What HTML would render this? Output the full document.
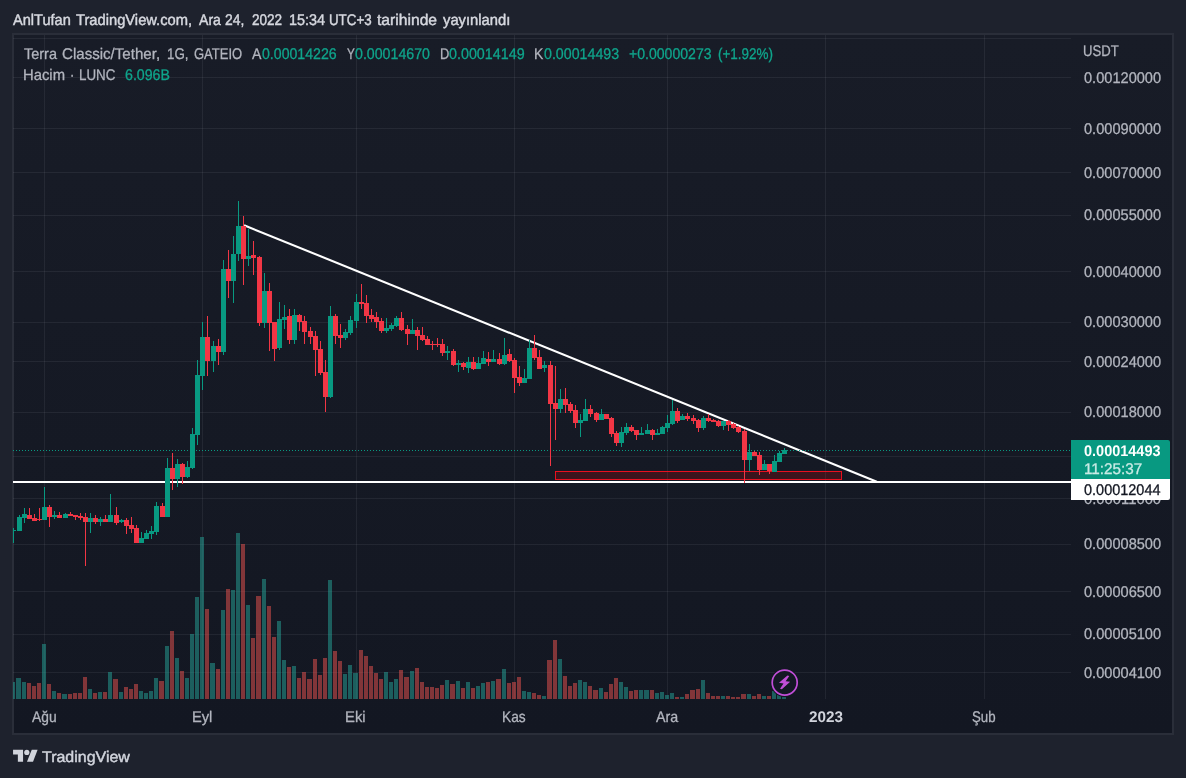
<!DOCTYPE html>
<html><head><meta charset="utf-8"><title>chart</title><style>
html,body{margin:0;padding:0}body{width:1186px;height:778px;background:#1e222d;position:relative;overflow:hidden;font-family:"Liberation Sans",sans-serif}
.t{position:absolute;white-space:nowrap;transform-origin:0 16px;line-height:21px}
#tx{position:absolute;left:0;top:0;width:1186px;height:778px;will-change:transform}
</style></head><body>
<svg width="1186" height="778" viewBox="0 0 1186 778" style="position:absolute;left:0;top:0">
<defs><linearGradient id="bg" x1="0" y1="0" x2="0" y2="1"><stop offset="0" stop-color="#181c27"/><stop offset="1" stop-color="#131722"/></linearGradient><clipPath id="cp"><rect x="13" y="35" width="1058" height="664"/></clipPath></defs>
<rect x="12" y="33" width="1162" height="702" fill="#2a2e39"/>
<rect x="14" y="35" width="1158" height="698" fill="url(#bg)"/>
<path d="M44 35h1v664h-1zM202 35h1v664h-1zM356 35h1v664h-1zM514 35h1v664h-1zM667 35h1v664h-1zM825 35h1v664h-1zM984 35h1v664h-1z" fill="rgba(240,243,250,0.065)"/>
<path d="M13 38h1058v1h-1058zM13 77h1058v1h-1058zM13 128h1058v1h-1058zM13 172h1058v1h-1058zM13 215h1058v1h-1058zM13 271h1058v1h-1058zM13 322h1058v1h-1058zM13 361h1058v1h-1058zM13 412h1058v1h-1058zM13 456h1058v1h-1058zM13 498h1058v1h-1058zM13 544h1058v1h-1058zM13 591h1058v1h-1058zM13 634h1058v1h-1058zM13 672h1058v1h-1058z" fill="rgba(240,243,250,0.065)"/>
<g clip-path="url(#cp)">
<rect x="13" y="481" width="1058" height="2" fill="#fff"/>
<path d="M244.1 225.25L876.8 481.7" stroke="#fff" stroke-width="2.1" stroke-linecap="butt" fill="none"/>
<path d="M11 699v-17h4v17zM16 699v-21h5v21zM22 699v-17h4v17zM42 699v-55h4v55zM52 699v-8h4v8zM62 699v-5h5v5zM88 699v-10h4v10zM98 699v-7h4v7zM108 699v-27h4v27zM119 699v-7h4v7zM139 699v-8h4v8zM144 699v-6h4v6zM149 699v-8h4v8zM154 699v-21h4v21zM165 699v-53h4v53zM175 699v-41h4v41zM185 699v-21h4v21zM190 699v-65h4v65zM195 699v-102h4v102zM200 699v-162h4v162zM210 699v-36h5v36zM221 699v-89h4v89zM231 699v-109h4v109zM236 699v-166h4v166zM246 699v-94h4v94zM262 699v-120h4v120zM277 699v-78h4v78zM282 699v-39h4v39zM292 699v-33h4v33zM328 699v-119h4v119zM343 699v-25h4v25zM348 699v-34h4v34zM353 699v-26h5v26zM384 699v-27h4v27zM389 699v-17h4v17zM394 699v-20h4v20zM410 699v-28h4v28zM445 699v-19h4v19zM456 699v-18h4v18zM466 699v-17h4v17zM476 699v-13h4v13zM481 699v-16h4v16zM491 699v-18h4v18zM502 699v-30h4v30zM522 699v-8h4v8zM527 699v-7h4v7zM542 699v-3h4v3zM558 699v-40h4v40zM578 699v-19h4v19zM583 699v-17h4v17zM599 699v-11h4v11zM619 699v-17h4v17zM624 699v-12h4v12zM639 699v-9h4v9zM644 699v-9h5v9zM655 699v-6h4v6zM660 699v-7h4v7zM665 699v-4h4v4zM670 699v-6h4v6zM680 699v-2h4v2zM701 699v-19h4v19zM721 699v-3h4v3zM747 699v-5h4v5zM762 699v-3h4v3zM772 699v-8h4v8zM777 699v-4h4v4zM782 699v-2h4v2z" fill="rgba(38,166,154,0.5)"/>
<path d="M27 699v-16h4v16zM32 699v-13h4v13zM37 699v-16h4v16zM47 699v-15h4v15zM57 699v-6h4v6zM68 699v-5h4v5zM73 699v-6h4v6zM78 699v-6h4v6zM83 699v-22h4v22zM93 699v-6h4v6zM103 699v-7h4v7zM113 699v-20h5v20zM124 699v-12h4v12zM129 699v-10h4v10zM134 699v-15h4v15zM159 699v-18h5v18zM170 699v-68h4v68zM180 699v-28h4v28zM205 699v-90h4v90zM216 699v-30h4v30zM226 699v-110h4v110zM241 699v-155h4v155zM251 699v-61h4v61zM256 699v-103h5v103zM267 699v-93h4v93zM272 699v-62h4v62zM287 699v-32h4v32zM297 699v-21h4v21zM302 699v-27h4v27zM307 699v-20h5v20zM313 699v-40h4v40zM318 699v-24h4v24zM323 699v-41h4v41zM333 699v-48h4v48zM338 699v-38h4v38zM359 699v-49h4v49zM364 699v-43h4v43zM369 699v-33h4v33zM374 699v-26h4v26zM379 699v-20h4v20zM399 699v-29h4v29zM404 699v-22h5v22zM415 699v-31h4v31zM420 699v-17h4v17zM425 699v-12h4v12zM430 699v-12h4v12zM435 699v-11h4v11zM440 699v-14h4v14zM450 699v-15h5v15zM461 699v-11h4v11zM471 699v-11h4v11zM486 699v-17h4v17zM496 699v-20h5v20zM507 699v-16h4v16zM512 699v-17h4v17zM517 699v-22h4v22zM532 699v-6h4v6zM537 699v-4h4v4zM547 699v-39h5v39zM553 699v-59h4v59zM563 699v-23h4v23zM568 699v-13h4v13zM573 699v-16h4v16zM588 699v-13h4v13zM593 699v-9h5v9zM604 699v-7h4v7zM609 699v-15h4v15zM614 699v-21h4v21zM629 699v-8h4v8zM634 699v-9h4v9zM650 699v-9h4v9zM675 699v-2h4v2zM685 699v-5h4v5zM690 699v-9h5v9zM696 699v-10h4v10zM706 699v-6h4v6zM711 699v-3h4v3zM716 699v-3h4v3zM726 699v-3h4v3zM731 699v-2h4v2zM736 699v-2h4v2zM741 699v-5h5v5zM752 699v-3h4v3zM757 699v-5h4v5zM767 699v-3h4v3z" fill="rgba(239,83,80,0.5)"/>
<rect x="555.5" y="471.5" width="286" height="8" fill="rgba(255,0,0,0.17)" stroke="#e8101e" stroke-width="1"/>
<path d="M13 450.5H1071" stroke="#089981" stroke-width="1" stroke-dasharray="1 2" fill="none"/>
<path d="M13 528h1v15h-1zM11 530h5v1h-5zM19 515h1v16h-1zM17 517h5v14h-5zM24 508h1v15h-1zM22 514h5v4h-5zM44 487h1v33h-1zM42 507h5v13h-5zM54 511h1v8h-1zM52 515h5v2h-5zM65 513h1v5h-1zM63 514h5v4h-5zM90 513h1v20h-1zM88 518h5v4h-5zM100 517h1v9h-1zM98 519h5v3h-5zM110 494h1v28h-1zM108 515h5v7h-5zM121 519h1v4h-1zM119 520h5v2h-5zM141 532h1v11h-1zM139 538h5v5h-5zM146 530h1v9h-1zM144 533h5v6h-5zM151 526h1v13h-1zM149 531h5v3h-5zM156 502h1v33h-1zM154 506h5v26h-5zM167 458h1v59h-1zM165 468h5v49h-5zM177 459h1v28h-1zM175 464h5v15h-5zM187 461h1v17h-1zM185 467h5v10h-5zM192 428h1v41h-1zM190 434h5v34h-5zM197 360h1v85h-1zM195 375h5v60h-5zM202 322h1v68h-1zM200 337h5v39h-5zM213 341h1v31h-1zM211 346h5v15h-5zM223 260h1v95h-1zM221 269h5v83h-5zM233 236h1v67h-1zM231 254h5v27h-5zM238 201h1v60h-1zM236 226h5v28h-5zM248 229h1v37h-1zM246 256h5v3h-5zM264 273h1v55h-1zM262 291h5v32h-5zM279 302h1v48h-1zM277 319h5v29h-5zM284 305h1v24h-1zM282 317h5v3h-5zM294 309h1v35h-1zM292 315h5v25h-5zM330 306h1v92h-1zM328 316h5v81h-5zM345 329h1v11h-1zM343 332h5v6h-5zM350 316h1v19h-1zM348 320h5v13h-5zM356 294h1v34h-1zM354 302h5v19h-5zM386 318h1v15h-1zM384 328h5v3h-5zM391 323h1v8h-1zM389 325h5v4h-5zM396 316h1v11h-1zM394 318h5v8h-5zM412 319h1v15h-1zM410 330h5v4h-5zM447 346h1v14h-1zM445 351h5v2h-5zM458 360h1v12h-1zM456 363h5v2h-5zM468 357h1v16h-1zM466 362h5v6h-5zM478 357h1v12h-1zM476 363h5v6h-5zM483 351h1v13h-1zM481 358h5v6h-5zM493 350h1v12h-1zM491 359h5v3h-5zM504 338h1v27h-1zM502 355h5v9h-5zM524 369h1v14h-1zM522 378h5v5h-5zM529 340h1v39h-1zM527 348h5v31h-5zM544 361h1v11h-1zM542 365h5v3h-5zM560 389h1v24h-1zM558 399h5v10h-5zM580 414h1v23h-1zM578 420h5v3h-5zM585 399h1v22h-1zM583 409h5v12h-5zM601 409h1v11h-1zM599 414h5v6h-5zM621 427h1v20h-1zM619 432h5v11h-5zM626 423h1v12h-1zM624 427h5v6h-5zM641 427h1v8h-1zM639 433h5v2h-5zM647 424h1v10h-1zM645 430h5v4h-5zM657 429h1v6h-1zM655 433h5v2h-5zM662 426h1v8h-1zM660 427h5v7h-5zM667 415h1v17h-1zM665 423h5v5h-5zM672 400h1v25h-1zM670 411h5v13h-5zM682 414h1v6h-1zM680 416h5v4h-5zM703 416h1v14h-1zM701 418h5v10h-5zM723 421h1v9h-1zM721 421h5v5h-5zM749 444h1v27h-1zM747 452h5v8h-5zM764 460h1v10h-1zM762 464h5v6h-5zM774 455h1v17h-1zM772 461h5v11h-5zM779 451h1v11h-1zM777 453h5v9h-5zM784 448h1v6h-1zM782 450h5v4h-5z" fill="#089981"/>
<path d="M29 508h1v11h-1zM27 515h5v4h-5zM34 514h1v7h-1zM32 518h5v3h-5zM39 508h1v13h-1zM37 519h5v1h-5zM49 505h1v22h-1zM47 507h5v10h-5zM59 512h1v6h-1zM57 515h5v3h-5zM70 512h1v4h-1zM68 514h5v2h-5zM75 515h1v5h-1zM73 515h5v2h-5zM80 513h1v7h-1zM78 516h5v2h-5zM85 513h1v53h-1zM83 517h5v5h-5zM95 515h1v9h-1zM93 518h5v4h-5zM105 515h1v7h-1zM103 519h5v3h-5zM116 507h1v18h-1zM114 515h5v8h-5zM126 518h1v16h-1zM124 520h5v6h-5zM131 517h1v16h-1zM129 525h5v4h-5zM136 525h1v18h-1zM134 528h5v15h-5zM162 503h1v14h-1zM160 506h5v11h-5zM172 453h1v37h-1zM170 468h5v11h-5zM182 463h1v21h-1zM180 464h5v13h-5zM207 316h1v60h-1zM205 337h5v24h-5zM218 339h1v26h-1zM216 346h5v6h-5zM228 250h1v48h-1zM226 269h5v12h-5zM243 216h1v69h-1zM241 226h5v33h-5zM253 241h1v34h-1zM251 255h5v3h-5zM259 256h1v70h-1zM257 257h5v66h-5zM269 283h1v68h-1zM267 291h5v32h-5zM274 322h1v39h-1zM272 322h5v27h-5zM289 309h1v35h-1zM287 316h5v24h-5zM299 314h1v17h-1zM297 315h5v7h-5zM304 316h1v28h-1zM302 321h5v11h-5zM310 327h1v17h-1zM308 331h5v6h-5zM315 331h1v45h-1zM313 336h5v14h-5zM320 341h1v34h-1zM318 349h5v24h-5zM325 360h1v52h-1zM323 372h5v25h-5zM335 314h1v30h-1zM333 316h5v20h-5zM340 324h1v24h-1zM338 335h5v3h-5zM361 284h1v25h-1zM359 302h5v2h-5zM366 295h1v28h-1zM364 303h5v13h-5zM371 309h1v13h-1zM369 315h5v4h-5zM376 312h1v16h-1zM374 317h5v5h-5zM381 318h1v15h-1zM379 321h5v10h-5zM401 312h1v19h-1zM399 318h5v12h-5zM407 325h1v20h-1zM405 329h5v5h-5zM417 327h1v23h-1zM415 330h5v6h-5zM422 327h1v14h-1zM420 335h5v5h-5zM427 336h1v9h-1zM425 339h5v6h-5zM432 341h1v9h-1zM430 344h5v1h-5zM437 338h1v9h-1zM435 344h5v1h-5zM442 339h1v17h-1zM440 344h5v9h-5zM453 349h1v17h-1zM451 351h5v14h-5zM463 362h1v8h-1zM461 363h5v4h-5zM473 357h1v13h-1zM471 362h5v7h-5zM488 352h1v14h-1zM486 359h5v3h-5zM499 353h1v12h-1zM497 359h5v5h-5zM509 349h1v13h-1zM507 354h5v7h-5zM514 358h1v35h-1zM512 360h5v18h-5zM519 366h1v20h-1zM517 377h5v6h-5zM534 335h1v25h-1zM532 348h5v10h-5zM539 350h1v19h-1zM537 357h5v12h-5zM550 361h1v105h-1zM548 365h5v39h-5zM555 366h1v74h-1zM553 403h5v6h-5zM565 388h1v25h-1zM563 399h5v6h-5zM570 402h1v11h-1zM568 404h5v7h-5zM575 405h1v23h-1zM573 410h5v13h-5zM590 405h1v12h-1zM588 409h5v5h-5zM596 412h1v10h-1zM594 413h5v7h-5zM606 414h1v5h-1zM604 414h5v5h-5zM611 417h1v20h-1zM609 418h5v16h-5zM616 431h1v15h-1zM614 433h5v10h-5zM631 425h1v7h-1zM629 427h5v4h-5zM636 430h1v10h-1zM634 430h5v5h-5zM652 429h1v11h-1zM650 430h5v5h-5zM677 408h1v15h-1zM675 411h5v10h-5zM687 413h1v8h-1zM685 416h5v3h-5zM693 415h1v9h-1zM691 418h5v3h-5zM698 419h1v13h-1zM696 420h5v8h-5zM708 414h1v8h-1zM706 418h5v3h-5zM713 419h1v3h-1zM711 420h5v2h-5zM718 420h1v7h-1zM716 421h5v5h-5zM728 420h1v11h-1zM726 421h5v4h-5zM733 423h1v6h-1zM731 424h5v4h-5zM738 426h1v7h-1zM736 427h5v5h-5zM744 429h1v54h-1zM742 431h5v29h-5zM754 451h1v5h-1zM752 452h5v4h-5zM759 452h1v23h-1zM757 455h5v15h-5zM769 464h1v10h-1zM767 464h5v7h-5z" fill="#f23645"/>
</g>
<circle cx="784.7" cy="682.6" r="14.3" fill="#141824"/>
<circle cx="784.7" cy="682.6" r="12.5" fill="#141824" stroke="#c24fd8" stroke-width="1.7"/>
<path d="M787.47 675.57L789.27 675.98L785.67 681.13L790.14 681.74L781.86 689.35L780.01 688.63L783.51 683.39L778.98 682.77z" fill="#c24fd8"/>
<g fill="#d1d4dc"><path d="M13.06 749.84H23.07V761.83H17.86V754.4H13.06z"/><circle cx="26.82" cy="752.4" r="2.6"/><path d="M31.77 749.84H37.59L33.04 761.83H26.97z"/></g>
</svg>
<div id="tx">
<div class="t" id="t0" style="left:13.2px;top:9px;font-size:15.4px;color:#d6d8df;-webkit-text-stroke:0.45px #d6d8df;transform:rotate(.03deg) scaleX(0.9469);">AnlTufan</div>
<div class="t" id="t1" style="left:76.3px;top:9px;font-size:15.4px;color:#d6d8df;-webkit-text-stroke:0.45px #d6d8df;transform:rotate(.03deg) scaleX(0.9556);">TradingView.com,</div>
<div class="t" id="t2" style="left:198.5px;top:9px;font-size:15.4px;color:#d6d8df;-webkit-text-stroke:0.45px #d6d8df;transform:rotate(.03deg) scaleX(0.9139);">Ara</div>
<div class="t" id="t3" style="left:225.4px;top:9px;font-size:15.4px;color:#d6d8df;-webkit-text-stroke:0.45px #d6d8df;transform:rotate(.03deg) scaleX(0.9011);">24,</div>
<div class="t" id="t4" style="left:251.8px;top:9px;font-size:15.4px;color:#d6d8df;-webkit-text-stroke:0.45px #d6d8df;transform:rotate(.03deg) scaleX(0.8786);">2022</div>
<div class="t" id="t5" style="left:288.7px;top:9px;font-size:15.4px;color:#d6d8df;-webkit-text-stroke:0.45px #d6d8df;transform:rotate(.03deg) scaleX(0.9344);">15:34</div>
<div class="t" id="t6" style="left:329.2px;top:9px;font-size:15.4px;color:#d6d8df;-webkit-text-stroke:0.45px #d6d8df;transform:rotate(.03deg) scaleX(0.8659);">UTC+3</div>
<div class="t" id="t7" style="left:377px;top:9px;font-size:15.4px;color:#d6d8df;-webkit-text-stroke:0.45px #d6d8df;transform:rotate(.03deg) scaleX(1.0176);">tarihinde</div>
<div class="t" id="t8" style="left:443px;top:9px;font-size:15.4px;color:#d6d8df;-webkit-text-stroke:0.45px #d6d8df;transform:rotate(.03deg) scaleX(0.9603);">yayınlandı</div>
<div class="t" id="t9" style="left:23.9px;top:43px;font-size:15.4px;color:#b2b5be;-webkit-text-stroke:0.3px #b2b5be;transform:rotate(.03deg) scaleX(0.9405);">Terra</div>
<div class="t" id="t10" style="left:61.9px;top:43px;font-size:15.4px;color:#b2b5be;-webkit-text-stroke:0.3px #b2b5be;transform:rotate(.03deg) scaleX(0.9801);">Classic/Tether,</div>
<div class="t" id="t11" style="left:167px;top:43px;font-size:15.4px;color:#b2b5be;-webkit-text-stroke:0.3px #b2b5be;transform:rotate(.03deg) scaleX(0.8661);">1G,</div>
<div class="t" id="t12" style="left:194.2px;top:43px;font-size:15.4px;color:#b2b5be;-webkit-text-stroke:0.3px #b2b5be;transform:rotate(.03deg) scaleX(0.8452);">GATEIO</div>
<div class="t" id="t13" style="left:251.8px;top:43px;font-size:15.4px;color:#b2b5be;-webkit-text-stroke:0.3px #b2b5be;transform:rotate(.03deg) scaleX(0.9147);">A</div>
<div class="t" id="t14" style="left:261.7px;top:43px;font-size:15.4px;color:#0fa58c;-webkit-text-stroke:0.3px #0fa58c;transform:rotate(.03deg) scaleX(0.9173);">0.00014226</div>
<div class="t" id="t15" style="left:346.7px;top:43px;font-size:15.4px;color:#b2b5be;-webkit-text-stroke:0.3px #b2b5be;transform:rotate(.03deg) scaleX(0.7590);">Y</div>
<div class="t" id="t16" style="left:355px;top:43px;font-size:15.4px;color:#0fa58c;-webkit-text-stroke:0.3px #0fa58c;transform:rotate(.03deg) scaleX(0.9222);">0.00014670</div>
<div class="t" id="t17" style="left:439.6px;top:43px;font-size:15.4px;color:#b2b5be;-webkit-text-stroke:0.3px #b2b5be;transform:rotate(.03deg) scaleX(0.8351);">D</div>
<div class="t" id="t18" style="left:449.4px;top:43px;font-size:15.4px;color:#0fa58c;-webkit-text-stroke:0.3px #0fa58c;transform:rotate(.03deg) scaleX(0.9296);">0.00014149</div>
<div class="t" id="t19" style="left:533.7px;top:43px;font-size:15.4px;color:#b2b5be;-webkit-text-stroke:0.3px #b2b5be;transform:rotate(.03deg) scaleX(0.9050);">K</div>
<div class="t" id="t20" style="left:543.5px;top:43px;font-size:15.4px;color:#0fa58c;-webkit-text-stroke:0.3px #0fa58c;transform:rotate(.03deg) scaleX(0.9235);">0.00014493</div>
<div class="t" id="t21" style="left:629.2px;top:43px;font-size:15.4px;color:#0fa58c;-webkit-text-stroke:0.3px #0fa58c;transform:rotate(.03deg) scaleX(0.9145);">+0.00000273</div>
<div class="t" id="t22" style="left:718.2px;top:43px;font-size:15.4px;color:#0fa58c;-webkit-text-stroke:0.3px #0fa58c;transform:rotate(.03deg) scaleX(0.8744);">(+1.92%)</div>
<div class="t" id="t23" style="left:22.8px;top:64px;font-size:15.4px;color:#b2b5be;-webkit-text-stroke:0.3px #b2b5be;transform:rotate(.03deg) scaleX(0.9629);">Hacim</div>
<div class="t" id="t24" style="left:70.3px;top:64px;font-size:15.4px;color:#b2b5be;-webkit-text-stroke:0.3px #b2b5be;transform:rotate(.03deg) scaleX(0.8347);">·</div>
<div class="t" id="t25" style="left:78.6px;top:64px;font-size:15.4px;color:#b2b5be;-webkit-text-stroke:0.3px #b2b5be;transform:rotate(.03deg) scaleX(0.8684);">LUNC</div>
<div class="t" id="t26" style="left:124.7px;top:64px;font-size:15.4px;color:#0fa58c;-webkit-text-stroke:0.3px #0fa58c;transform:rotate(.03deg) scaleX(0.9202);">6.096B</div>
<div class="t" id="t27" style="left:1082.6px;top:40px;font-size:15.4px;color:#b2b5be;-webkit-text-stroke:0.3px #b2b5be;transform:rotate(.03deg) scaleX(0.8517);">USDT</div>
<div class="t" id="t28" style="left:1084px;top:67px;font-size:15.4px;color:#b2b5be;-webkit-text-stroke:0.3px #b2b5be;transform:rotate(.03deg) scaleX(0.9481);">0.00120000</div>
<div class="t" id="t29" style="left:1084px;top:118px;font-size:15.4px;color:#b2b5be;-webkit-text-stroke:0.3px #b2b5be;transform:rotate(.03deg) scaleX(0.9481);">0.00090000</div>
<div class="t" id="t30" style="left:1084px;top:162px;font-size:15.4px;color:#b2b5be;-webkit-text-stroke:0.3px #b2b5be;transform:rotate(.03deg) scaleX(0.9481);">0.00070000</div>
<div class="t" id="t31" style="left:1084px;top:204px;font-size:15.4px;color:#b2b5be;-webkit-text-stroke:0.3px #b2b5be;transform:rotate(.03deg) scaleX(0.9481);">0.00055000</div>
<div class="t" id="t32" style="left:1084px;top:261px;font-size:15.4px;color:#b2b5be;-webkit-text-stroke:0.3px #b2b5be;transform:rotate(.03deg) scaleX(0.9481);">0.00040000</div>
<div class="t" id="t33" style="left:1084px;top:311px;font-size:15.4px;color:#b2b5be;-webkit-text-stroke:0.3px #b2b5be;transform:rotate(.03deg) scaleX(0.9481);">0.00030000</div>
<div class="t" id="t34" style="left:1084px;top:351px;font-size:15.4px;color:#b2b5be;-webkit-text-stroke:0.3px #b2b5be;transform:rotate(.03deg) scaleX(0.9481);">0.00024000</div>
<div class="t" id="t35" style="left:1084px;top:401px;font-size:15.4px;color:#b2b5be;-webkit-text-stroke:0.3px #b2b5be;transform:rotate(.03deg) scaleX(0.9481);">0.00018000</div>
<div class="t" id="t36" style="left:1084px;top:488px;font-size:15.4px;color:#b2b5be;-webkit-text-stroke:0.3px #b2b5be;transform:rotate(.03deg) scaleX(0.9616);">0.00011000</div>
<div class="t" id="t37" style="left:1084px;top:533px;font-size:15.4px;color:#b2b5be;-webkit-text-stroke:0.3px #b2b5be;transform:rotate(.03deg) scaleX(0.9481);">0.00008500</div>
<div class="t" id="t38" style="left:1084px;top:581px;font-size:15.4px;color:#b2b5be;-webkit-text-stroke:0.3px #b2b5be;transform:rotate(.03deg) scaleX(0.9481);">0.00006500</div>
<div class="t" id="t39" style="left:1084px;top:623px;font-size:15.4px;color:#b2b5be;-webkit-text-stroke:0.3px #b2b5be;transform:rotate(.03deg) scaleX(0.9481);">0.00005100</div>
<div class="t" id="t40" style="left:1084px;top:662px;font-size:15.4px;color:#b2b5be;-webkit-text-stroke:0.3px #b2b5be;transform:rotate(.03deg) scaleX(0.9481);">0.00004100</div>
<div class="t" id="t41" style="left:31.9px;top:706px;font-size:15.4px;color:#b2b5be;-webkit-text-stroke:0.3px #b2b5be;transform:rotate(.03deg) scaleX(0.8978);">Ağu</div>
<div class="t" id="t42" style="left:192px;top:706px;font-size:15.4px;color:#b2b5be;-webkit-text-stroke:0.3px #b2b5be;transform:rotate(.03deg) scaleX(0.9532);">Eyl</div>
<div class="t" id="t43" style="left:344.5px;top:706px;font-size:15.4px;color:#b2b5be;-webkit-text-stroke:0.3px #b2b5be;transform:rotate(.03deg) scaleX(0.9625);">Eki</div>
<div class="t" id="t44" style="left:501.6px;top:706px;font-size:15.4px;color:#b2b5be;-webkit-text-stroke:0.3px #b2b5be;transform:rotate(.03deg) scaleX(0.8929);">Kas</div>
<div class="t" id="t45" style="left:656.1px;top:706px;font-size:15.4px;color:#b2b5be;-webkit-text-stroke:0.3px #b2b5be;transform:rotate(.03deg) scaleX(0.9264);">Ara</div>
<div class="t" id="t46" style="left:808.6px;top:706px;font-size:15.4px;color:#d1d4dc;font-weight:700;transform:rotate(.03deg) scaleX(0.9924);">2023</div>
<div class="t" id="t47" style="left:972px;top:706px;font-size:15.4px;color:#b2b5be;-webkit-text-stroke:0.3px #b2b5be;transform:rotate(.03deg) scaleX(0.8613);">Şub</div>
<div class="t" id="t48" style="left:41.64px;top:746px;font-size:15.4px;color:#d1d4dc;-webkit-text-stroke:0.45px #d1d4dc;transform:rotate(.03deg) scaleX(1.0376);">TradingView</div>
<div style="position:absolute;left:1071px;top:440px;width:99px;height:39px;background:#089981;border-radius:0 2px 0 0"></div>
<div style="position:absolute;left:1071px;top:479px;width:99px;height:21px;background:#fff;border-radius:0 0 2px 0"></div>
<div class="t" id="t49" style="left:1084.2px;top:440px;font-size:15.4px;color:#ffffff;font-weight:700;transform:rotate(.03deg) scaleX(0.9407);">0.00014493</div>
<div class="t" id="t50" style="left:1084px;top:458px;font-size:15.4px;color:#c9ebe5;-webkit-text-stroke:0.3px #c9ebe5;transform:rotate(.03deg) scaleX(0.9916);">11:25:37</div>
<div class="t" id="t51" style="left:1084.2px;top:479px;font-size:15.4px;color:#131722;-webkit-text-stroke:0.3px #131722;transform:rotate(.03deg) scaleX(0.9407);">0.00012044</div>
</div>
</body></html>
